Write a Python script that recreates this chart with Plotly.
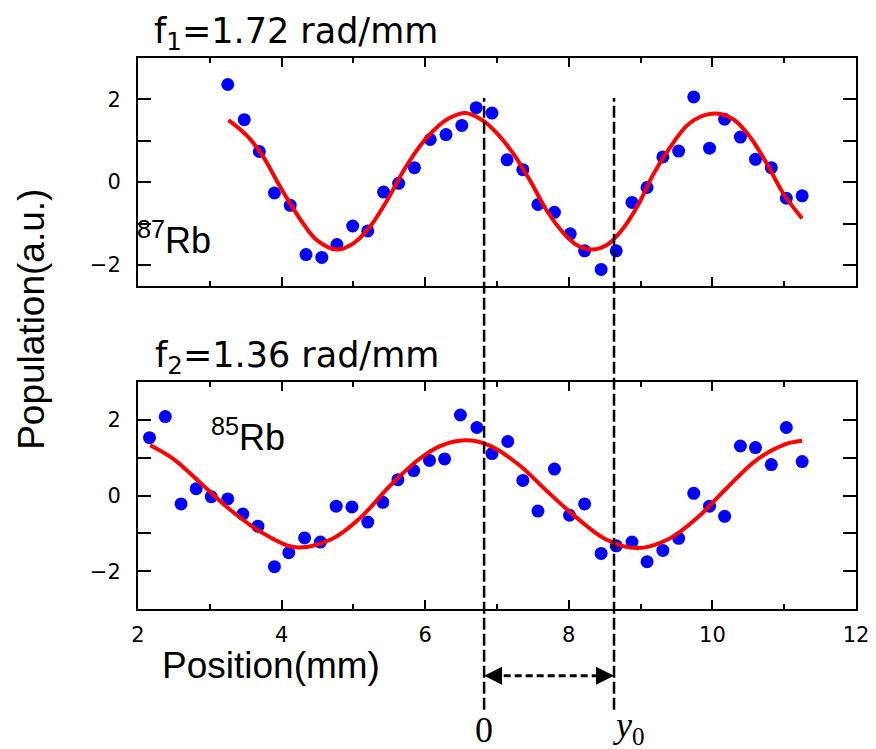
import plotly.graph_objects as go

# ---------------- data ----------------
rb87_x = [3.25, 3.48, 3.69, 3.90, 4.12, 4.34, 4.56, 4.77, 4.99, 5.20, 5.42, 5.63, 5.85,
          6.07, 6.29, 6.51, 6.71, 6.93, 7.14, 7.36, 7.57, 7.80, 8.02, 8.22, 8.45, 8.66,
          8.88, 9.09, 9.31, 9.53, 9.74, 9.96, 10.17, 10.39, 10.60, 10.82, 11.03, 11.25]
rb87_y = [2.36, 1.51, 0.74, -0.26, -0.56, -1.75, -1.82, -1.51, -1.06, -1.18, -0.24, -0.03, 0.35,
          1.03, 1.15, 1.37, 1.80, 1.67, 0.54, 0.30, -0.54, -0.73, -1.25, -1.66, -2.11, -1.66,
          -0.49, -0.13, 0.61, 0.75, 2.06, 0.82, 1.52, 1.09, 0.55, 0.35, -0.39, -0.33]

fit87_x = [3.26, 3.52, 3.75, 3.93, 4.12, 4.30, 4.49, 4.77, 5.00, 5.23, 5.47, 5.70, 5.93,
           6.16, 6.35, 6.56, 6.81, 7.02, 7.23, 7.46, 7.69, 7.93, 8.11, 8.32, 8.53, 8.72,
           8.95, 9.18, 9.41, 9.64, 9.83, 10.05, 10.29, 10.53, 10.76, 10.99, 11.25]
fit87_y = [1.50, 1.12, 0.60, 0.04, -0.52, -1.00, -1.40, -1.63, -1.48, -1.08, -0.44, 0.28, 0.88,
           1.32, 1.56, 1.67, 1.48, 1.14, 0.68, 0.04, -0.68, -1.24, -1.52, -1.63, -1.52, -1.20,
           -0.60, 0.20, 0.84, 1.36, 1.58, 1.66, 1.52, 1.08, 0.44, -0.28, -0.88]

rb85_x = [2.16, 2.38, 2.60, 2.81, 3.02, 3.25, 3.46, 3.67, 3.90, 4.10, 4.32, 4.54, 4.76,
          4.98, 5.20, 5.41, 5.62, 5.84, 6.06, 6.27, 6.49, 6.72, 6.93, 7.15, 7.36, 7.57,
          7.80, 8.01, 8.22, 8.45, 8.66, 8.88, 9.09, 9.31, 9.53, 9.74, 9.96, 10.17, 10.39,
          10.60, 10.82, 11.03, 11.25]
rb85_y = [1.53, 2.09, -0.22, 0.18, -0.03, -0.09, -0.49, -0.81, -1.88, -1.51, -1.12, -1.23, -0.28,
          -0.30, -0.70, -0.18, 0.42, 0.66, 0.93, 0.97, 2.13, 1.80, 1.11, 1.43, 0.40, -0.41,
          0.70, -0.52, -0.22, -1.53, -1.33, -1.23, -1.75, -1.45, -1.13, 0.06, -0.28, -0.55, 1.31,
          1.27, 0.82, 1.80, 0.90]

fit85_x = [2.17, 2.5, 2.9, 3.3, 3.7, 4.2, 4.7, 5.1, 5.5, 5.9, 6.2, 6.56, 6.9, 7.3, 7.7,
           8.1, 8.5, 8.95, 9.4, 9.8, 10.2, 10.6, 11.0, 11.25]
fit85_y = [1.33, 0.96, 0.28, -0.40, -0.95, -1.37, -1.15, -0.58, 0.24, 0.94, 1.30, 1.46, 1.32,
           0.82, 0.11, -0.57, -1.14, -1.39, -1.14, -0.57, 0.20, 0.92, 1.35, 1.45]

x_ticks = [2, 4, 6, 8, 10, 12]
y_ticks = [-2, -1, 0, 1, 2]
y_ticktext = ["\u22122", "", "0", "", "2"]

marker_positions = [6.82, 8.63]   # the "0" and "y0" guide lines

# ---------------- layout helpers (page pixel -> paper) ----------------
OFF = 8                      # the page body margin that offsets the figure
W, H = 876 - OFF, 749 - OFF
FRAME_L, FRAME_R, FRAME_T, FRAME_B = 138, 856, 58, 609.3   # page pixels
ML = FRAME_L - OFF
MR = W - (FRAME_R - OFF)
MT = FRAME_T - OFF
MB = H - (FRAME_B - OFF)
PW, PH = W - ML - MR, H - MT - MB


def px(x):
    return (x - OFF - ML) / PW


def py(y):
    return (H - MB - (y - OFF)) / PH


SANS = "Liberation Sans, Arial, sans-serif"
WIDE = "DejaVu Sans, sans-serif"
SERIF = "Liberation Serif, Times New Roman, serif"

fig = go.Figure()

fig.add_trace(go.Scatter(x=rb87_x, y=rb87_y, mode="markers", xaxis="x", yaxis="y",
                         marker=dict(color="#0000FF", size=13, line=dict(width=0)),
                         showlegend=False))
fig.add_trace(go.Scatter(x=fit87_x, y=fit87_y, mode="lines", xaxis="x", yaxis="y",
                         line=dict(color="#FF0000", width=4, shape="spline", smoothing=1.0),
                         showlegend=False))
fig.add_trace(go.Scatter(x=rb85_x, y=rb85_y, mode="markers", xaxis="x2", yaxis="y2",
                         marker=dict(color="#0000FF", size=13, line=dict(width=0)),
                         showlegend=False))
fig.add_trace(go.Scatter(x=fit85_x, y=fit85_y, mode="lines", xaxis="x2", yaxis="y2",
                         line=dict(color="#FF0000", width=4, shape="spline", smoothing=1.0),
                         showlegend=False))

TICKFONT = dict(family=WIDE, size=21, color="black")

xcommon = dict(range=[2, 12], tickvals=x_ticks, ticks="inside", ticklen=9, tickwidth=1.5,
               tickcolor="black", showline=True, linecolor="black", linewidth=2,
               mirror="allticks", showgrid=False, zeroline=False,
               minor=dict(dtick=1, tick0=2, ticks="inside", ticklen=5, tickwidth=1.5,
                          tickcolor="black", showgrid=False),
               tickfont=TICKFONT)
ycommon = dict(tickvals=y_ticks, ticktext=y_ticktext, ticks="inside", ticklen=13,
               tickwidth=1.5, tickcolor="black", showline=True, linecolor="black",
               linewidth=2, mirror="allticks", showgrid=False, zeroline=False,
               tickfont=TICKFONT, ticklabelstandoff=11)

top_dom = [py(285.7), 1.0]
bot_dom = [0.0, py(382.3)]

fig.update_layout(
    width=W, height=H,
    margin=dict(l=ML, r=MR, t=MT, b=MB, autoexpand=False),
    paper_bgcolor="white", plot_bgcolor="white",
    font=dict(family=SANS, size=21, color="black"),
    xaxis=dict(**xcommon, anchor="y", showticklabels=False),
    yaxis=dict(**ycommon, range=[-2.5, 3], domain=top_dom, anchor="x"),
    xaxis2=dict(**xcommon, anchor="y2", showticklabels=True, ticklabelstandoff=6),
    yaxis2=dict(**ycommon, range=[-3, 3], domain=bot_dom, anchor="x2"),
)

# dashed guide lines
for xm in marker_positions:
    fig.add_shape(type="line", xref="x2", yref="paper", x0=xm, x1=xm,
                  y0=py(710), y1=py(98),
                  line=dict(color="black", width=2.5, dash="12px,4px"))

# dashed double arrow between the guides
ya = py(676)
fig.add_shape(type="line", xref="x2", yref="paper", x0=marker_positions[0] + 0.12,
              x1=marker_positions[1] - 0.12, y0=ya, y1=ya,
              line=dict(color="black", width=3, dash="7px,4px"))
fig.add_annotation(xref="x2", yref="paper", x=marker_positions[0], y=ya, ax=14, ay=0,
                   text="", showarrow=True, arrowhead=2, arrowsize=1.2, arrowwidth=3,
                   arrowcolor="black")
fig.add_annotation(xref="x2", yref="paper", x=marker_positions[1], y=ya, ax=-14, ay=0,
                   text="", showarrow=True, arrowhead=2, arrowsize=1.2, arrowwidth=3,
                   arrowcolor="black")


def label(text, x, y, size, family=SANS, xanchor="left", angle=0):
    fig.add_annotation(xref="paper", yref="paper", x=px(x), y=py(y), text=text,
                       showarrow=False, xanchor=xanchor, yanchor="middle",
                       textangle=angle, font=dict(family=family, size=size, color="black"))


label("f<sub>1</sub>=1.72 rad/mm", 152, 33, 35, family=WIDE)
label("f<sub>2</sub>=1.36 rad/mm", 153, 358, 35, family=WIDE)
label("<sup>87</sup>Rb", 135, 238, 36)
label("<sup>85</sup>Rb", 209, 435, 36)
label("Population(a.u.)", 32, 320, 37, angle=-90, xanchor="center")
label("Position(mm)", 271, 666, 37, xanchor="center")
label("0", 484, 730, 36, family=SERIF, xanchor="center")
label("<i>y</i><sub>0</sub>", 611, 728, 36, family=SERIF)

fig.write_html("out.html")
